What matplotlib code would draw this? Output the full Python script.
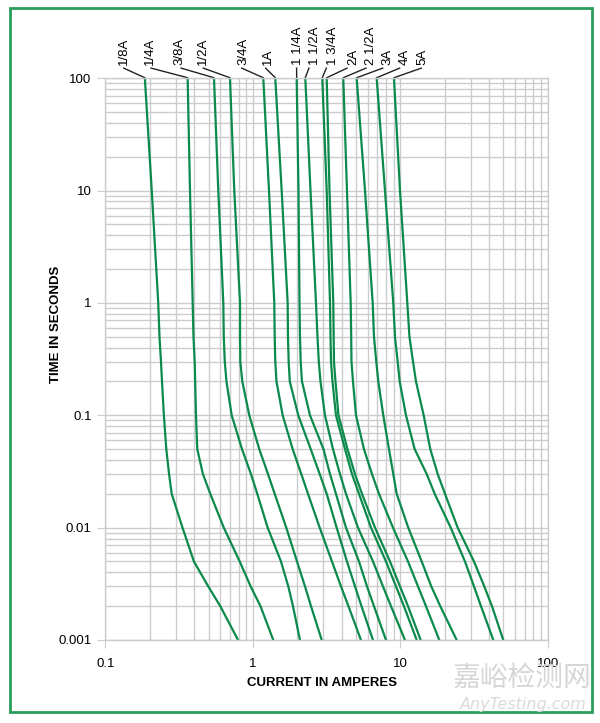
import matplotlib
matplotlib.use("Agg")
import matplotlib.pyplot as plt
from matplotlib.patches import Rectangle

plt.rcParams['font.family'] = ['Liberation Sans', 'DejaVu Sans']

# Time points (seconds) shared by all curves
times = [100, 10, 1, 0.5, 0.3, 0.2, 0.1, 0.05, 0.03, 0.02, 0.01, 0.005, 0.003, 0.002, 0.001]

# Fuse ratings and their current (A) at each time point
ratings = ['1/8A', '1/4A', '3/8A', '1/2A', '3/4A', '1A', '1 1/4A', '1 1/2A',
           '1 3/4A', '2A', '2 1/2A', '3A', '4A', '5A']

amp_1_8 = [0.185, 0.206, 0.228, 0.2325, 0.238, 0.2418, 0.249, 0.2586, 0.270, 0.2813,
           0.333, 0.398, 0.498, 0.601, 0.793]
amp_1_4 = [0.361, 0.3744, 0.3905, 0.3954, 0.4029, 0.4060, 0.4111, 0.4195, 0.4580, 0.514,
           0.6346, 0.8138, 0.966, 1.126, 1.375]
amp_3_8 = [0.5448, 0.5825, 0.6300, 0.6346, 0.6446, 0.6619, 0.7181, 0.8436, 0.9707, 1.071,
           1.260, 1.551, 1.739, 1.871, 2.087]
amp_1_2 = [0.6993, 0.7478, 0.8178, 0.8178, 0.8216, 0.8477, 0.9454, 1.105, 1.266, 1.406,
           1.685, 1.992, 2.257, 2.479, 2.930]
amp_3_4 = [1.177, 1.286, 1.397, 1.406, 1.419, 1.446, 1.593, 1.862, 2.13, 2.365,
           2.84, 3.44, 3.96, 4.45, 5.41]
amp_1 = [1.419, 1.568, 1.722, 1.730, 1.749, 1.780, 2.032, 2.467, 2.840, 3.168,
         3.702, 4.349, 4.928, 5.456, 6.528]
amp_1_1_4 = [1.982, 2.039, 2.071, 2.087, 2.110, 2.153, 2.440, 3.013, 3.336, 3.662,
             4.282, 5.246, 5.945, 6.631, 7.998]
amp_1_1_2 = [2.268, 2.460, 2.680, 2.744, 2.800, 2.875, 3.084, 3.494, 3.898, 4.282,
             5.164, 6.528, 7.630, 8.648, 10.76]
amp_1_3_4 = [2.957, 3.168, 3.336, 3.362, 3.388, 3.467, 3.662, 4.216, 4.702, 5.246,
             6.328, 7.998, 9.350, 10.59, 12.92]
amp_2 = [3.168, 3.310, 3.511, 3.533, 3.549, 3.634, 3.808, 4.383, 4.928, 5.499,
         6.736, 8.514, 9.954, 11.28, 13.75]
amp_2_1_2 = [4.104, 4.349, 4.608, 4.645, 4.666, 4.777, 5.006, 5.671, 6.427, 7.171,
             8.923, 11.28, 13.19, 14.94, 18.39]
amp_3 = [5.06, 5.763, 6.499, 6.631, 6.874, 7.092, 7.667, 8.381, 8.964, 9.454,
         11.33, 13.97, 16.23, 18.68, 24.13]
amp_4 = [6.918, 7.874, 8.964, 9.205, 9.603, 9.906, 10.93, 12.52, 15.11, 17.12,
         21.98, 27.47, 31.62, 35.28, 42.76]
amp_5 = [9.063, 9.954, 11.16, 11.54, 12.20, 12.78, 14.41, 15.98, 17.94, 20.11,
         24.51, 31.62, 37.15, 41.89, 49.97]

curves = [amp_1_8, amp_1_4, amp_3_8, amp_1_2, amp_3_4, amp_1, amp_1_1_4,
          amp_1_1_2, amp_1_3_4, amp_2, amp_2_1_2, amp_3, amp_4, amp_5]

# where each rating label sits above the plot (in current units)
label_x = [0.134, 0.200, 0.317, 0.461, 0.861, 1.259, 2.032, 2.637,
           3.477, 4.80, 6.33, 8.22, 10.76, 14.1]
lead_x = [0.133, 0.204, 0.326, 0.461, 0.84, 1.22, 1.98, 2.4,
          3.15, 4.35, 5.85, 7.6, 9.9, 13.9]

fig = plt.figure(figsize=(6, 7.23), dpi=100)
ax = fig.add_axes([0.1758, 0.1148, 0.737, 0.777])

green = '#0b8a4c'
grid_c = '#cccccc'

for amps in curves:
    ax.plot(amps, times, color=green, lw=1.6, solid_joinstyle='round')

ax.set_xscale('log')
ax.set_yscale('log')
ax.set_xlim(0.1, 100)
ax.set_ylim(0.001, 100)

ax.grid(True, which='both', color=grid_c, lw=1)
ax.set_axisbelow(True)
for s in ax.spines.values():
    s.set_color(grid_c)
    s.set_linewidth(1)

ax.set_xticks([0.1, 1, 10, 100])
ax.set_xticklabels(['0.1', '1', '10', '100'])
ax.set_yticks([0.001, 0.01, 0.1, 1, 10, 100])
ax.set_yticklabels(['0.001', '0.01', '0.1', '1', '10', '100'])
ax.tick_params(which='major', length=6, color=grid_c, labelsize=9.5, pad=4)
ax.tick_params(axis='x', pad=7)
ax.tick_params(which='minor', length=0)

ax.set_xlabel('CURRENT IN AMPERES', fontsize=9.5, fontweight='bold')
ax.xaxis.set_label_coords(0.49, -0.066)
ax.set_ylabel('TIME IN SECONDS', fontsize=9.5, fontweight='bold')
ax.yaxis.set_label_coords(-0.098, 0.562)

# rating labels with leader lines
for name, amps, lx, sx in zip(ratings, curves, label_x, lead_x):
    ax.plot([sx, amps[0]], [123, 101], color='#222222', lw=1, clip_on=False)
    ax.text(lx, 131, name, rotation=90, ha='center', va='bottom',
            fontsize=9.5, clip_on=False)

# green frame around the figure
fig.patches.append(Rectangle((0.017, 0.015), 0.970, 0.974, transform=fig.transFigure,
                             fill=False, edgecolor='#2a9d5c', lw=2))

# watermark
fig.text(0.87, 0.062, '嘉峪检测网', fontsize=20, color='#d6d6d6', ha='center', va='center',
         family=['Noto Sans CJK SC', 'DejaVu Sans'])
fig.text(0.872, 0.026, 'AnyTesting.com', fontsize=11.5, color='#dadada', ha='center',
         va='center', style='italic', family=['DejaVu Sans'])

fig.savefig('out.png', dpi=100)
